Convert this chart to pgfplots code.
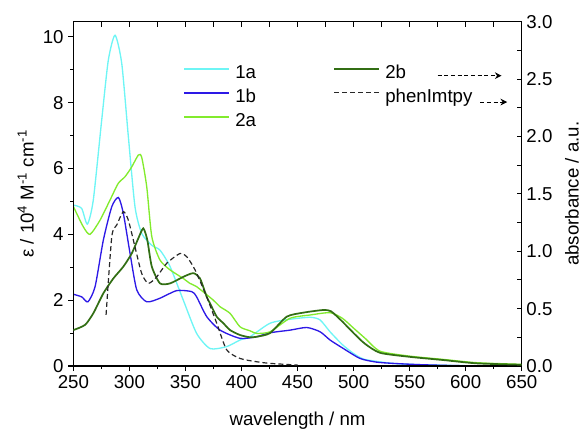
\documentclass[border=0pt]{standalone}
\usepackage{fontspec}
\setmainfont{Liberation Sans}
\usepackage{pgfplots}
\pgfplotsset{compat=1.18}
\usetikzlibrary{arrows.meta}

\definecolor{c1a}{RGB}{110,245,245}
\definecolor{c1b}{RGB}{45,25,230}
\definecolor{c2a}{RGB}{130,235,45}
\definecolor{c2b}{RGB}{50,110,20}
\definecolor{cph}{RGB}{40,40,40}

\pgfplotsset{
  common/.style={
    width=336.3pt, height=258.2pt, scale only axis,
    xmin=250, xmax=650,
    axis line style={line width=1pt},
    every tick/.style={black, line width=0.8pt},
    tick label style={font=\fontsize{14}{16}\selectfont},
    label style={font=\fontsize{14}{16}\selectfont},
    /pgf/number format/assume math mode=true,
    legend style={draw=none, fill=none, inner sep=0pt,
      font=\fontsize{14}{16}\selectfont,
      nodes={inner sep=0pt, text height=10pt, text depth=3pt},
      row sep=5pt},
    legend cell align=left,
    /tikz/every odd column/.append style={column sep=4pt},
  },
}

\begin{document}
\begin{tikzpicture}
\begin{axis}[common, name=ax1,
  ymin=0, ymax=10.46,
  ytick={0,2,...,10}, minor ytick={1,3,...,9},
  xtick={250,300,...,650}, minor xtick={275,325,...,625},
  tick pos=left, tick align=outside,
  major tick length=3.75pt, minor tick length=2.25pt,
  xlabel={wavelength / nm},
  ylabel={ε / 10\textsuperscript{4} M\textsuperscript{-1} cm\textsuperscript{-1}},
  xlabel style={at={(axis description cs:0.5,-0.158)}, anchor=center},
  ylabel style={at={(axis description cs:-0.106,0.5)}, anchor=center},
  legend style={at={(axis description cs:0.2446,0.780)}, anchor=west},
  legend image code/.code={\draw[#1, line width=1.3pt] (0pt,3.5pt) -- (33.75pt,3.5pt);},
]
% 1a
\addplot[c1a, line width=1pt, smooth, tension=0.4] coordinates {
(250,4.89) (257.4,4.79) (262.5,4.31) (267.8,5.04) (275.3,7.47) (281.2,9.29)
(287.2,10.05) (293.2,9.19) (299.1,6.96) (305,4.84) (311,4.03) (319.9,3.67)
(327.3,3.52) (336.3,3.02) (348.1,2.00) (360,0.99) (372,0.53) (386.8,0.59)
(398.7,0.79) (407.6,0.89) (425.5,1.30) (443.3,1.42) (461.2,1.48) (470.1,1.40)
(479,1.04) (490,0.65) (500,0.38) (510,0.20) (535,0.08) (560,0.04) (600,0.01) (650,0.00)
};
\addlegendentry{1a}
% 1b
\addplot[c1b, line width=1pt, smooth, tension=0.4] coordinates {
(250,2.18) (257.5,2.10) (263,1.95) (269.4,2.41) (276.8,3.83) (284.3,4.84)
(290.2,5.12) (294.6,4.64) (300.6,3.42) (306.6,2.31) (315.5,1.95) (327.3,2.06)
(342.2,2.29) (355.6,2.26) (360,2.10) (369,1.50) (380.9,1.09) (398.7,0.84)
(413.6,0.89) (425.5,1.01) (443.3,1.09) (458.2,1.17) (470.1,1.04) (479,0.79)
(490,0.55) (505.7,0.23) (520,0.12) (535,0.08) (560,0.04) (595,0.01) (650,0.00)
};
\addlegendentry{1b}
% 2a
\addplot[c2a, line width=1pt, smooth, tension=0.4] coordinates {
(250,4.85) (258.9,4.23) (264.9,4.00) (273.8,4.43) (282.7,5.04) (290.1,5.55)
(296.1,5.75) (302.1,6.05) (308,6.41) (311,6.34) (315.5,5.44) (320,3.93)
(327.3,3.22) (336.3,2.92) (348.1,2.66) (354,2.51) (360,2.41) (374.9,2.00)
(380.9,1.80) (389.8,1.60) (398.7,1.19) (407.6,1.07) (413.6,0.99) (425.5,1.04)
(443.3,1.45) (461.2,1.55) (479,1.62) (490,1.45) (500,1.15) (510,0.85)
(523.6,0.45) (550,0.30) (580,0.20) (610,0.10) (650,0.05)
};
\addlegendentry{2a}
\end{axis}

\begin{axis}[common,
  ymin=0, ymax=3,
  ytick={0,0.5,...,3}, minor ytick={0.25,0.75,...,2.75},
  yticklabel style={/pgf/number format/.cd, fixed, fixed zerofill, precision=1},
  xtick={250,275,...,650}, xticklabels={},
  tick pos=right, tick align=inside,
  major tick length=3.75pt, minor tick length=3.75pt,
  ylabel={absorbance / a.u.},
  ylabel style={at={(axis description cs:1.112,0.5)}, anchor=center},
  legend style={at={(axis description cs:0.579,0.815)}, anchor=west},
  legend image code/.code={\draw[#1] (0pt,3.5pt) -- (33.75pt,3.5pt);},
]
% 2b
\addplot[c2b, line width=1.3pt, smooth, tension=0.4] coordinates {
(250,0.313) (260.4,0.358) (267.8,0.459) (276.8,0.634) (285.7,0.763) (294.6,0.866)
(302.1,0.981) (308,1.113) (312.4,1.199) (316,1.098) (320,0.866) (327.3,0.720)
(336.3,0.720) (348.1,0.777) (357,0.809) (363,0.763) (369,0.602) (372,0.545)
(377.9,0.430) (383.8,0.373) (389.8,0.313) (398.7,0.270) (407.6,0.250) (413.6,0.255)
(425.5,0.287) (440.4,0.430) (455.2,0.465) (473,0.488) (480,0.476) (490,0.387)
(500,0.287) (510,0.195) (523.6,0.115) (550,0.080) (580,0.052) (610,0.023) (650,0.011)
};
\addlegendentry{2b}
% phenImtpy
\addplot[cph, line width=0.9pt, dash pattern=on 3.75pt off 2.25pt, smooth, tension=0.4] coordinates {
(279.2,0.445) (284.3,1.127) (288.7,1.228) (294.6,1.345) (299.1,1.270) (305,1.038)
(311,0.806) (316.9,0.720) (324.4,0.777) (333.3,0.895) (345.2,0.981) (351.2,0.952)
(358.6,0.837) (369,0.602) (377.9,0.373) (386.8,0.141) (398.7,0.066) (413.6,0.037)
(425.5,0.023) (450,0.008)
};
\addlegendentry{phenImtpy}
\draw[black, line width=0.8pt, dash pattern=on 3pt off 2pt, -{Stealth[length=5pt,width=5pt]}]
  (axis cs:575,2.53) -- (axis cs:632,2.53);
\draw[black, line width=0.8pt, dash pattern=on 3pt off 2pt, -{Stealth[length=5pt,width=5pt]}]
  (axis cs:613,2.30) -- (axis cs:637,2.30);
\end{axis}

\pgfresetboundingbox
\path[use as bounding box] ([shift={(-55pt,-47.25pt)}]ax1.south west)
  rectangle ([shift={(46.7pt,16.3pt)}]ax1.north east);
\end{tikzpicture}
\end{document}
